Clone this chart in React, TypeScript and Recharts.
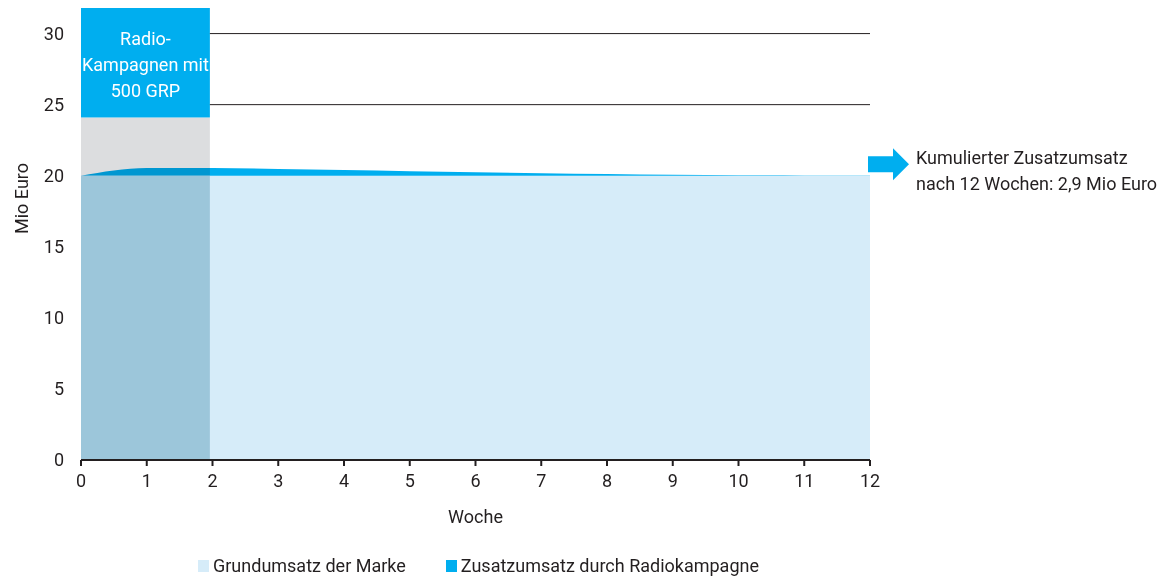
import { AreaChart, Area, XAxis, YAxis, ReferenceLine, ReferenceArea, ReferenceDot, Legend } from "recharts";

const weeks = [0, 1, 2, 3, 4, 5, 6, 7, 8, 9, 10, 11, 12];
const grundumsatz = [20, 20, 20, 20, 20, 20, 20, 20, 20, 20, 20, 20, 20];
const zusatzumsatz = [0, 0.54, 0.55, 0.48, 0.4, 0.32, 0.25, 0.18, 0.12, 0.07, 0.04, 0.02, 0.01];
const yTicks = [0, 5, 10, 15, 20, 25, 30];
const gridValues = [25, 30];
const boxLines = ["Radio-", "Kampagnen mit", "500 GRP"];
const noteLines = ["Kumulierter Zusatzumsatz", "nach 12 Wochen: 2,9 Mio Euro"];
const legendItems = [
  { name: "Grundumsatz der Marke", color: "#d6ecf9" },
  { name: "Zusatzumsatz durch Radiokampagne", color: "#00aeef" },
];

const data = weeks.map((w, i) => ({ week: w, base: grundumsatz[i], extra: zusatzumsatz[i] }));

const FONT = "Roboto, sans-serif";
const TEXT = "#231f20";

function CampaignBox(p: any) {
  const cx = p.x + p.width / 2;
  return (
    <g>
      <rect x={p.x} y={p.y} width={p.width} height={p.height} fill="#00aeef" />
      {boxLines.map((t, i) => (
        <text key={t} x={cx} y={p.y + 37 + i * 26} textAnchor="middle" fill="#fff" fontSize={18} fontFamily={FONT}>
          {t}
        </text>
      ))}
    </g>
  );
}

function GrayOverlay(p: any) {
  return (
    <rect x={p.x} y={p.y} width={p.width} height={p.height} fill="#dcdddf" style={{ mixBlendMode: "multiply" }} />
  );
}

function NoteArrow(p: any) {
  const x = p.cx;
  const y = p.cy;
  return (
    <g>
      <polygon
        points={`${x - 2},${y - 8} ${x + 23},${y - 8} ${x + 23},${y - 16} ${x + 39},${y} ${x + 23},${y + 16} ${x + 23},${y + 8} ${x - 2},${y + 8}`}
        fill="#00aeef"
      />
      {noteLines.map((t, i) => (
        <text key={t} x={x + 46} y={y + i * 26} fill={TEXT} fontSize={18} fontFamily={FONT}>
          {t}
        </text>
      ))}
    </g>
  );
}

function LegendContent() {
  return (
    <div style={{ display: "flex", gap: 40, fontFamily: FONT, fontSize: 18, color: TEXT }}>
      {legendItems.map((it) => (
        <div key={it.name} style={{ display: "flex", alignItems: "center", gap: 4 }}>
          <span style={{ width: 11, height: 12, background: it.color, display: "inline-block" }} />
          <span>{it.name}</span>
        </div>
      ))}
    </div>
  );
}

export default function App() {
  return (
    <div style={{ position: "absolute", left: 0, top: 0, background: "#fff" }}>
      <AreaChart width={1171} height={579} data={data} margin={{ top: 8, right: 301, left: 0, bottom: 0 }}>
        <XAxis
          dataKey="week"
          type="number"
          domain={[0, 12]}
          ticks={weeks}
          height={95}
          axisLine={{ stroke: TEXT, strokeWidth: 2 }}
          tickLine={{ stroke: TEXT, strokeWidth: 2 }}
          tickSize={6}
          tickMargin={8}
          tick={{ fill: TEXT, fontSize: 18, fontFamily: FONT }}
          label={{ value: "Woche", position: "insideTop", offset: 50, fill: TEXT, fontSize: 18, fontFamily: FONT }}
        />
        <YAxis
          type="number"
          domain={[0, 31.8]}
          ticks={yTicks}
          width={81}
          axisLine={false}
          tickLine={false}
          tickMargin={11}
          tick={{ fill: TEXT, fontSize: 18, fontFamily: FONT }}
          label={{ value: "Mio Euro", angle: -90, position: "insideLeft", offset: 22, fill: TEXT, fontSize: 18, fontFamily: FONT }}
        />
        {gridValues.map((v) => (
          <ReferenceLine key={v} segment={[{ x: 1.96, y: v }, { x: 12, y: v }]} stroke={TEXT} strokeWidth={1} />
        ))}
        <Area dataKey="base" stackId="s" type="monotone" fill="#d6ecf9" fillOpacity={1} stroke="none" isAnimationActive={false} />
        <Area dataKey="extra" stackId="s" type="monotone" fill="#00aeef" fillOpacity={1} stroke="none" isAnimationActive={false} />
        <ReferenceArea x1={0} x2={1.96} y1={0} y2={20} fill="#9cc6da" fillOpacity={1} stroke="none" />
        <ReferenceArea x1={0} x2={1.96} y1={20} y2={24.1} shape={GrayOverlay} />
        <ReferenceArea x1={0} x2={1.96} y1={24.1} y2={31.8} shape={CampaignBox} />
        <ReferenceDot x={12} y={20.8} r={0} ifOverflow="visible" shape={NoteArrow} />
        <Legend content={LegendContent} verticalAlign="bottom" wrapperStyle={{ left: 198, bottom: 0, top: 555, width: "auto" }} />
      </AreaChart>
    </div>
  );
}
